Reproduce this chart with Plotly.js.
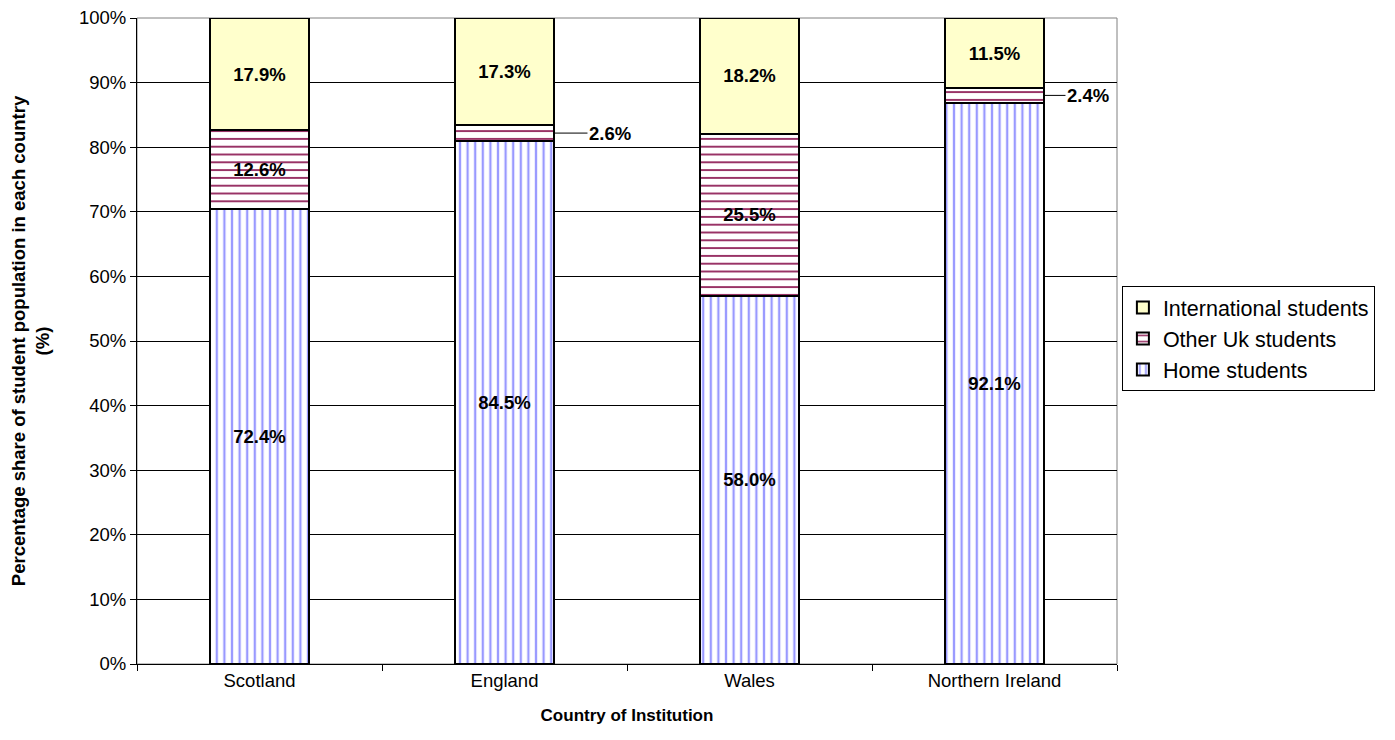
<!DOCTYPE html>
<html>
<head>
<meta charset="utf-8">
<script src="https://cdn.plot.ly/plotly-3.0.1.min.js"></script>
<style>html,body{margin:0;padding:0;background:#fff;}#chart{width:1395px;height:740px;}</style>
</head>
<body>
<div id="chart"></div>
<script>
const countries = ["Scotland", "England", "Wales", "Northern Ireland"];
const homeStudents = [72.4, 84.5, 58.0, 92.1];
const otherUkStudents = [12.6, 2.6, 25.5, 2.4];
const internationalStudents = [17.9, 17.3, 18.2, 11.5];
const yTickLabels = ["0%","10%","20%","30%","40%","50%","60%","70%","80%","90%","100%"];

const FONT = "Arial, 'Liberation Sans', sans-serif";
const fmt = v => v.toFixed(1) + "%";
const inText = arr => arr.map(v => v >= 5 ? fmt(v) : "");

const common = {
  type: "bar",
  x: countries,
  textposition: "inside",
  insidetextanchor: "middle",
  textangle: 0,
  constraintext: "none",
  textfont: {family: FONT, size: 18.5, color: "#000", weight: "bold"},
  insidetextfont: {family: FONT, size: 18.5, color: "#000", weight: "bold"},
  hoverinfo: "none"
};

const traces = [
  Object.assign({}, common, {
    name: "Home students",
    y: homeStudents,
    text: inText(homeStudents),
    marker: {color: "#ffffff", line: {color: "#000", width: 2},
      pattern: {shape: "|", fgcolor: "#9999ff", bgcolor: "#ffffff", size: 7.6, solidity: 0.3}}
  }),
  Object.assign({}, common, {
    name: "Other Uk students",
    y: otherUkStudents,
    text: inText(otherUkStudents),
    marker: {color: "#ffffff", line: {color: "#000", width: 2},
      pattern: {shape: "-", fgcolor: "#993366", bgcolor: "#ffffff", size: 7.8, solidity: 0.25}}
  }),
  Object.assign({}, common, {
    name: "International students",
    y: internationalStudents,
    text: inText(internationalStudents),
    marker: {color: "#ffffcc", line: {color: "#000", width: 2}}
  })
];

// leader-line labels for thin segments
const BAR_HALF = 0.202;
const annotations = [];
countries.forEach((c, i) => {
  const total = homeStudents[i] + otherUkStudents[i] + internationalStudents[i];
  if (otherUkStudents[i] < 5) {
    const mid = (homeStudents[i] + otherUkStudents[i] / 2) / total * 100;
    annotations.push({
      x: i + BAR_HALF, y: mid, xref: "x", yref: "y",
      text: fmt(otherUkStudents[i]),
      showarrow: true, arrowhead: 0, arrowwidth: 1, arrowcolor: "#000",
      ax: i === 1 ? 56 : 44, ay: 0, standoff: 0,
      font: {family: FONT, size: 18.5, color: "#000", weight: "bold"}
    });
  }
});

const tickVals = yTickLabels.map(s => parseFloat(s));

const layout = {
  width: 1395, height: 740,
  margin: {l: 137, r: 278, t: 18, b: 76, pad: 0},
  paper_bgcolor: "#fff", plot_bgcolor: "#fff",
  barmode: "stack",
  barnorm: "percent",
  bargap: 0.596,
  font: {family: FONT, color: "#000"},
  showlegend: true,
  legend: {
    x: 1.005, xanchor: "left", y: 0.585, yanchor: "top",
    traceorder: "reversed",
    bordercolor: "#000", borderwidth: 1, bgcolor: "#fff",
    font: {family: FONT, size: 21.5, color: "#000"},
    itemwidth: 30, tracegroupgap: 0
  },
  xaxis: {
    type: "category",
    showline: true, linecolor: "#000", linewidth: 1,
    ticks: "outside", tickson: "boundaries", ticklen: 6, tickcolor: "#000",
    showgrid: false,
    tickfont: {family: FONT, size: 18.5, color: "#000"},
    title: {text: "Country of Institution", font: {family: FONT, size: 17, color: "#000", weight: "bold"}, standoff: 18}
  },
  yaxis: {
    range: [0, 100],
    tickvals: tickVals, ticktext: yTickLabels,
    showline: true, linecolor: "#000", linewidth: 1,
    ticks: "outside", ticklen: 6, tickcolor: "#000",
    showgrid: true, gridcolor: "#000", gridwidth: 1,
    zeroline: false,
    tickfont: {family: FONT, size: 18.5, color: "#000"},
    title: {text: "Percentage share of student population in each country<br>(%)", font: {family: FONT, size: 18.5, color: "#000", weight: "bold"}, standoff: 24}
  },
  shapes: [{type: "rect", xref: "paper", yref: "paper", x0: 0, x1: 1, y0: 0, y1: 1,
    line: {color: "#808080", width: 1}, layer: "below"}],
  annotations: annotations
};

Plotly.newPlot("chart", traces, layout, {displayModeBar: false, staticPlot: true});
</script>
</body>
</html>
